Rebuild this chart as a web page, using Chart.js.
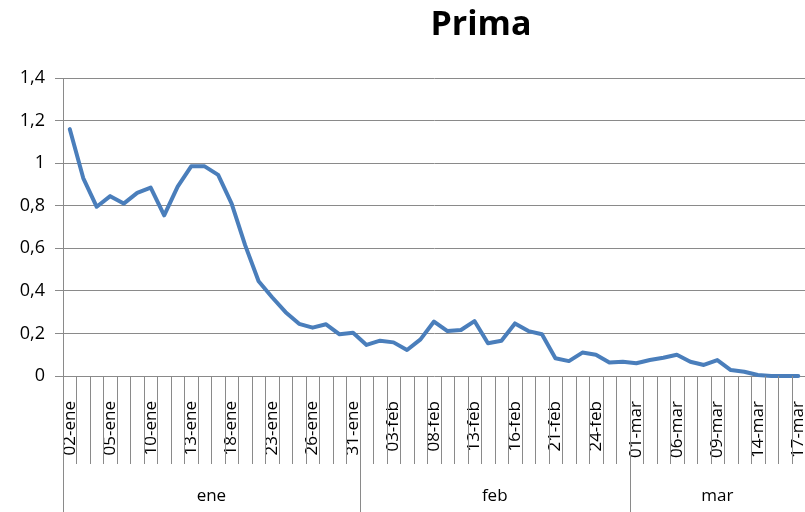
<!DOCTYPE html>
<html>
<head>
<meta charset="utf-8">
<script src="https://cdn.jsdelivr.net/npm/chart.js@4.4.0/dist/chart.umd.min.js"></script>
<style>
  html, body { margin: 0; padding: 0; background: #fff; }
  #wrap { width: 805px; height: 512px; }
</style>
</head>
<body>
<div id="wrap"><canvas id="prima-chart"></canvas></div>
<script>
// trading days (2017), grouped by month
var days = [
  '02-ene','03-ene','04-ene','05-ene','06-ene','09-ene','10-ene','11-ene','12-ene','13-ene',
  '16-ene','17-ene','18-ene','19-ene','20-ene','23-ene','24-ene','25-ene','26-ene','27-ene',
  '30-ene','31-ene',
  '01-feb','02-feb','03-feb','06-feb','07-feb','08-feb','09-feb','10-feb','13-feb','14-feb',
  '15-feb','16-feb','17-feb','20-feb','21-feb','22-feb','23-feb','24-feb','27-feb','28-feb',
  '01-mar','02-mar','03-mar','06-mar','07-mar','08-mar','09-mar','10-mar','13-mar','14-mar',
  '15-mar','16-mar','17-mar'
];
var prima = [
  1.16, 0.93, 0.795, 0.845, 0.81, 0.86, 0.885, 0.755, 0.89, 0.985,
  0.985, 0.945, 0.81, 0.615, 0.445, 0.37, 0.30, 0.245, 0.227, 0.243,
  0.196, 0.203,
  0.146, 0.166, 0.158, 0.122, 0.172, 0.256, 0.211, 0.216, 0.258, 0.154,
  0.166, 0.247, 0.211, 0.196, 0.083, 0.07, 0.11, 0.10, 0.063, 0.067,
  0.06, 0.075, 0.086, 0.10, 0.067, 0.052, 0.075, 0.028, 0.02, 0.005,
  0, 0, 0
];
var months = ['ene', 'feb', 'mar'];
var monthDays = [22, 20, 13];
var labelEvery = 3;

var axisGrey = '#8a8a8a';
var font = '"Open Sans", "Noto Sans", sans-serif';

// Excel-style tick lines between categories and the month row underneath
var monthAxis = {
  id: 'monthAxis',
  afterDraw: function (chart) {
    var x = chart.scales.x;
    var ctx = chart.ctx;
    var bottom = chart.chartArea.bottom;
    var step = x.getPixelForValue(1) - x.getPixelForValue(0);
    ctx.save();
    ctx.strokeStyle = axisGrey;
    ctx.lineWidth = 1;
    ctx.beginPath();
    for (var i = 0; i < days.length; i++) {
      var px = Math.round(x.getPixelForValue(i) + step / 2) + 0.5;
      ctx.moveTo(px, bottom);
      ctx.lineTo(px, bottom + 88);
    }
    var start = 0;
    for (var m = 0; m < months.length; m++) {
      var left = x.getPixelForValue(start) - step / 2;
      var right = x.getPixelForValue(start + monthDays[m] - 1) + step / 2;
      var lx = Math.round(left) + 0.5;
      ctx.moveTo(lx, bottom);
      ctx.lineTo(lx, chart.height);
      start += monthDays[m];
      ctx.fillStyle = '#000';
      ctx.font = '17px ' + font;
      ctx.textAlign = 'center';
      ctx.textBaseline = 'middle';
      ctx.fillText(months[m], (left + right) / 2, bottom + 120);
    }
    ctx.stroke();

    // title
    ctx.font = 'bold 34px ' + font;
    ctx.fillStyle = '#000';
    ctx.textAlign = 'center';
    ctx.textBaseline = 'middle';
    ctx.fillText('Prima', 481, 25);
    ctx.restore();
  }
};

var ctx = document.getElementById('prima-chart').getContext('2d');
var chart = new Chart(ctx, {
  type: 'line',
  data: {
    labels: days,
    datasets: [{
      label: 'Prima',
      data: prima,
      borderColor: '#4a7ebb',
      borderWidth: 4,
      pointRadius: 0,
      tension: 0,
      borderJoinStyle: 'round',
      borderCapStyle: 'round',
      clip: false
    }]
  },
  options: {
    responsive: true,
    maintainAspectRatio: false,
    animation: false,
    devicePixelRatio: 1,
    layout: { padding: { top: 78, right: 0, left: 0, bottom: 0 } },
    plugins: {
      legend: { display: false },
      title: { display: false },
      tooltip: { enabled: false }
    },
    scales: {
      x: {
        offset: true,
        grid: { display: false },
        border: { display: false },
        ticks: {
          autoSkip: false,
          minRotation: 90,
          maxRotation: 90,
          padding: 17,
          color: '#000',
          font: { family: font, size: 17 },
          callback: function (v, i) { return i % labelEvery === 0 ? days[i] : ''; }
        },
        afterFit: function (scale) {
          scale.height = 136;
          scale.paddingLeft = 0;
          scale.paddingRight = 0;
        }
      },
      y: {
        min: 0,
        max: 1.4,
        grid: { color: axisGrey, tickLength: 8, lineWidth: 1 },
        border: { display: true, color: axisGrey },
        ticks: {
          stepSize: 0.2,
          padding: 10,
          color: '#000',
          font: { family: font, size: 18 },
          callback: function (v) { return String(Math.round(v * 10) / 10).replace('.', ','); }
        },
        afterFit: function (scale) { scale.width = 63; }
      }
    }
  },
  plugins: [monthAxis]
});
</script>
</body>
</html>
